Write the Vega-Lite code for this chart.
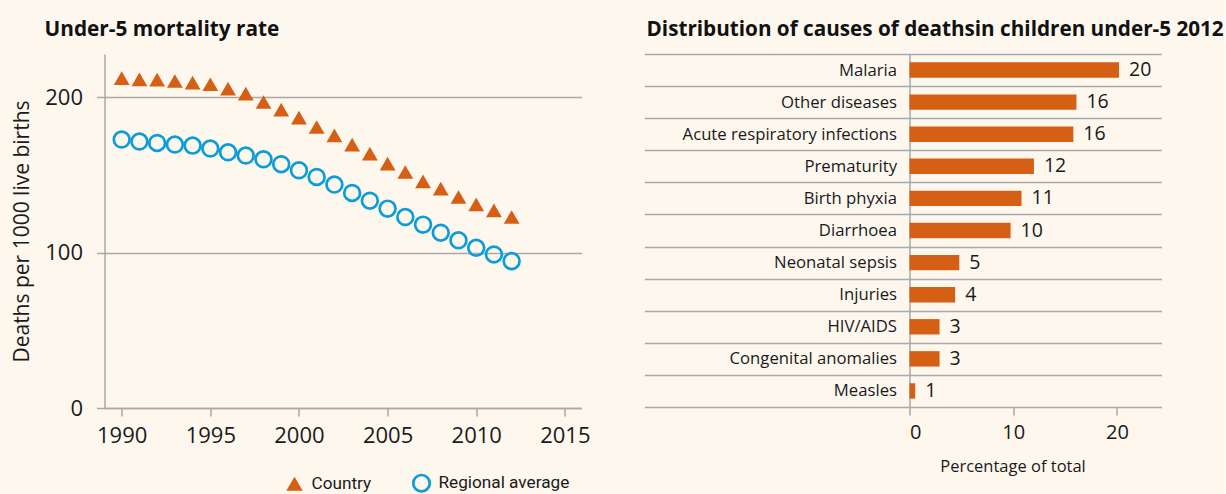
{
  "$schema": "https://vega.github.io/schema/vega-lite/v6.json",
  "background": "#FDF7EE",
  "padding": {"left": 11.5, "top": 19, "right": 0, "bottom": 0},
  "bounds": "flush",
  "spacing": 328,
  "config": {
    "font": "Open Sans",
    "view": {"stroke": null},
    "axis": {"labelColor": "#1a1a1a", "titleColor": "#1a1a1a", "domainColor": "#a9a9a9", "tickColor": "#a9a9a9", "gridColor": "#a9a9a9", "domainWidth": 1.5, "tickWidth": 1.5, "gridWidth": 1.5, "labelFont": "Open Sans", "titleFont": "Open Sans", "titleFontWeight": "normal"},
    "title": {"font": "Open Sans", "fontWeight": "bold", "fontSize": 20.8, "color": "#111111", "anchor": "start", "frame": "group"}
  },
  "datasets": {
    "mortality": [
      {"year": 1990, "series": "Country", "value": 212.4},
      {"year": 1991, "series": "Country", "value": 211.7},
      {"year": 1992, "series": "Country", "value": 211.5},
      {"year": 1993, "series": "Country", "value": 210.6},
      {"year": 1994, "series": "Country", "value": 209.6},
      {"year": 1995, "series": "Country", "value": 208.5},
      {"year": 1996, "series": "Country", "value": 205.7},
      {"year": 1997, "series": "Country", "value": 202.5},
      {"year": 1998, "series": "Country", "value": 197.1},
      {"year": 1999, "series": "Country", "value": 192.2},
      {"year": 2000, "series": "Country", "value": 187.0},
      {"year": 2001, "series": "Country", "value": 181.0},
      {"year": 2002, "series": "Country", "value": 175.6},
      {"year": 2003, "series": "Country", "value": 169.6},
      {"year": 2004, "series": "Country", "value": 163.8},
      {"year": 2005, "series": "Country", "value": 157.4},
      {"year": 2006, "series": "Country", "value": 152.0},
      {"year": 2007, "series": "Country", "value": 146.0},
      {"year": 2008, "series": "Country", "value": 141.3},
      {"year": 2009, "series": "Country", "value": 135.9},
      {"year": 2010, "series": "Country", "value": 131.2},
      {"year": 2011, "series": "Country", "value": 127.3},
      {"year": 2012, "series": "Country", "value": 123.0},
      {"year": 1990, "series": "Regional average", "value": 172.9},
      {"year": 1991, "series": "Regional average", "value": 171.6},
      {"year": 1992, "series": "Regional average", "value": 170.7},
      {"year": 1993, "series": "Regional average", "value": 169.7},
      {"year": 1994, "series": "Regional average", "value": 169.0},
      {"year": 1995, "series": "Regional average", "value": 167.1},
      {"year": 1996, "series": "Regional average", "value": 164.7},
      {"year": 1997, "series": "Regional average", "value": 162.6},
      {"year": 1998, "series": "Regional average", "value": 160.2},
      {"year": 1999, "series": "Regional average", "value": 157.0},
      {"year": 2000, "series": "Regional average", "value": 153.1},
      {"year": 2001, "series": "Regional average", "value": 148.8},
      {"year": 2002, "series": "Regional average", "value": 143.9},
      {"year": 2003, "series": "Regional average", "value": 138.5},
      {"year": 2004, "series": "Regional average", "value": 133.5},
      {"year": 2005, "series": "Regional average", "value": 128.4},
      {"year": 2006, "series": "Regional average", "value": 123.0},
      {"year": 2007, "series": "Regional average", "value": 118.1},
      {"year": 2008, "series": "Regional average", "value": 112.9},
      {"year": 2009, "series": "Regional average", "value": 108.0},
      {"year": 2010, "series": "Regional average", "value": 103.2},
      {"year": 2011, "series": "Regional average", "value": 98.9},
      {"year": 2012, "series": "Regional average", "value": 94.6}
    ],
    "causes": [
      {"cause": "Malaria", "pct": 20.2},
      {"cause": "Other diseases", "pct": 16.1},
      {"cause": "Acute respiratory infections", "pct": 15.8},
      {"cause": "Prematurity", "pct": 12.0},
      {"cause": "Birth phyxia", "pct": 10.8},
      {"cause": "Diarrhoea", "pct": 9.75},
      {"cause": "Neonatal sepsis", "pct": 4.8},
      {"cause": "Injuries", "pct": 4.4},
      {"cause": "HIV/AIDS", "pct": 2.9},
      {"cause": "Congenital anomalies", "pct": 2.9},
      {"cause": "Measles", "pct": 0.55}
    ]
  },
  "hconcat": [
    {
      "width": 477,
      "height": 354,
      "title": {"text": "Under-5 mortality rate", "dx": -60, "offset": 13},
      "data": {"name": "mortality"},
      "mark": {"type": "point", "size": 250, "strokeWidth": 2.7, "opacity": 1},
      "encoding": {
        "x": {"field": "year", "type": "quantitative", "scale": {"domain": [1989.03, 2015.94], "nice": false, "zero": false},
          "axis": {"values": [1990, 1995, 2000, 2005, 2010, 2015], "format": "d", "title": null, "grid": false, "tickSize": 8, "labelFontSize": 22, "labelPadding": 9}},
        "y": {"field": "value", "type": "quantitative", "scale": {"domain": [0, 228], "nice": false},
          "axis": {"values": [0, 100, 200], "title": "Deaths per 1000 live births", "titleFontSize": 21, "grid": true, "tickSize": 8, "labelFontSize": 22, "labelPadding": 14, "titlePadding": 12}},
        "shape": {"field": "series", "type": "nominal", "scale": {"domain": ["Country", "Regional average"], "range": ["triangle-up", "circle"]},
          "legend": {"orient": "none", "legendX": 180, "legendY": 419, "direction": "horizontal", "title": null, "labelFont": "Roboto", "labelFontSize": 17.2, "labelColor": "#1a1a1a", "symbolSize": 270, "symbolStrokeWidth": 2.7, "columnPadding": 36, "labelOffset": 7, "padding": 0}},
        "fill": {"field": "series", "type": "nominal", "scale": {"domain": ["Country", "Regional average"], "range": ["#D45F15", "transparent"]}, "legend": {"orient": "none", "legendX": 180, "legendY": 419, "direction": "horizontal", "title": null}},
        "stroke": {"field": "series", "type": "nominal", "scale": {"domain": ["Country", "Regional average"], "range": ["transparent", "#0B9DD9"]}, "legend": {"orient": "none", "legendX": 180, "legendY": 419, "direction": "horizontal", "title": null}}
      }
    },
    {
      "width": 252,
      "height": 353,
      "title": {"text": "Distribution of causes of deathsin children under-5 2012", "dx": -263, "offset": 5, "fontSize": 20.7},
      "data": {"name": "causes"},
      "encoding": {
        "y": {"field": "cause", "type": "nominal", "sort": null, "scale": {"paddingInner": 0, "paddingOuter": 0},
          "axis": {"title": null, "tickBand": "extent", "tickSize": 265, "labelPadding": -252, "labelLimit": 400, "grid": true, "labelFontSize": 16.7, "labelAlign": "right", "labelBaseline": "middle"}},
        "x": {"field": "pct", "type": "quantitative", "scale": {"domain": [0, 24.3], "nice": false},
          "axis": {"values": [0, 10, 20], "title": "Percentage of total", "titleFontSize": 16.5, "titleX": 103, "titleAnchor": null, "titleAlign": "center", "titlePadding": 16, "grid": false, "domain": false, "tickSize": 8, "labelFontSize": 20, "labelPadding": 7}}
      },
      "layer": [
        {"mark": {"type": "bar", "color": "#D45F15", "height": {"band": 0.48}}},
        {"mark": {"type": "text", "align": "left", "baseline": "middle", "dx": 10, "fontSize": 19.5, "color": "#1a1a1a"},
          "encoding": {"text": {"field": "pct", "type": "quantitative", "format": ".0f"}}}
      ]
    }
  ]
}
